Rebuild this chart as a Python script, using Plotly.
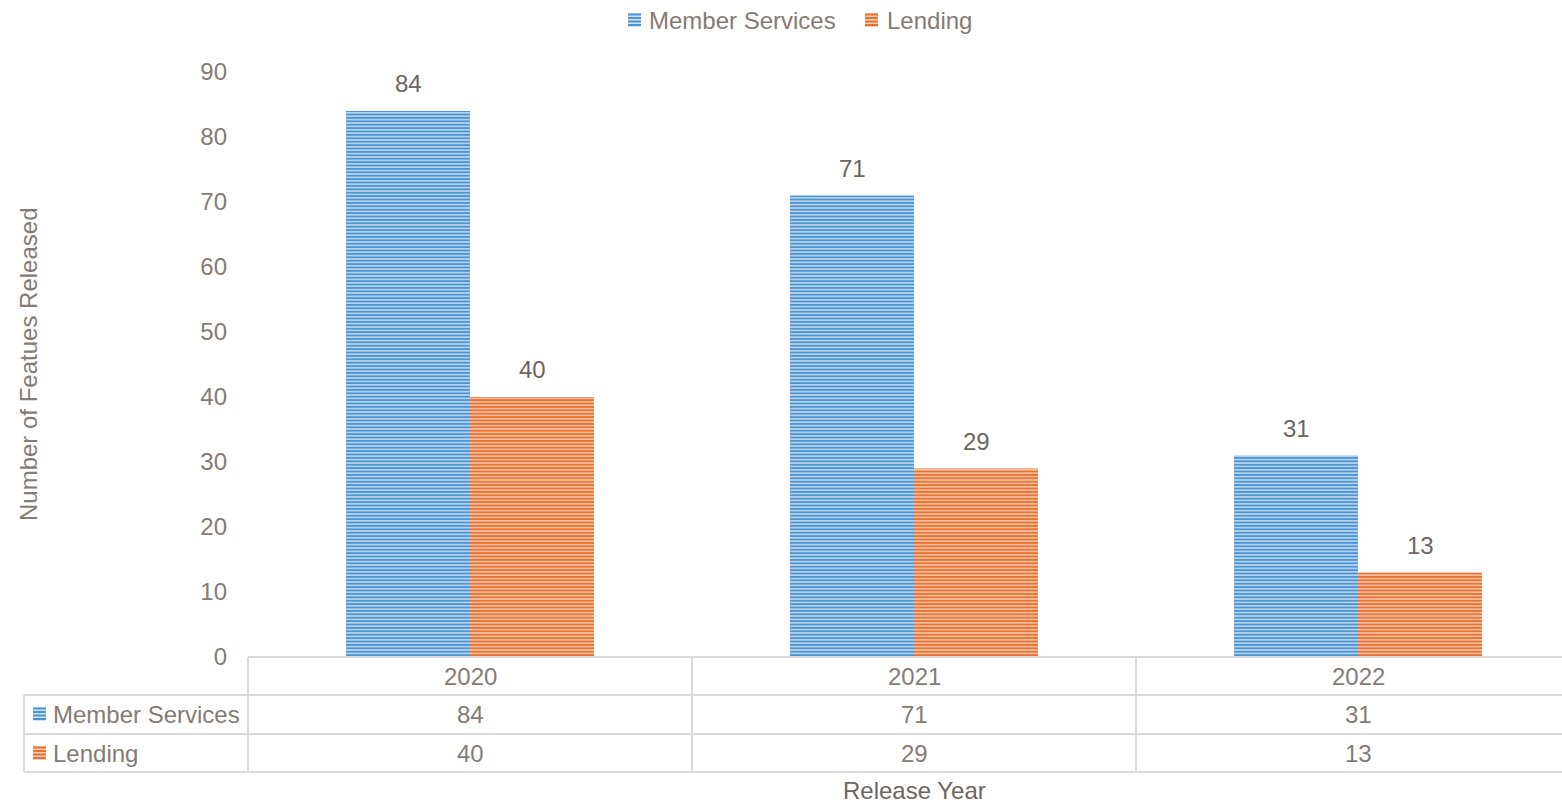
import plotly.graph_objects as go

years = ["2020", "2021", "2022"]
member_services = [84, 71, 31]
lending = [40, 29, 13]
series_names = ["Member Services", "Lending"]
y_ticks = [0, 10, 20, 30, 40, 50, 60, 70, 80, 90]

W, H = 1562, 804
L, T, B = 248, 72, 657
PW, PH = W - L, B - T

def px(x):
    return (x - L) / PW

def py(y):
    return (B - y) / PH

TXT = "#857b74"
DARK = "#6e655f"
GRID = "#dcdad8"
FONT = "Liberation Sans, Arial, sans-serif"
FS = 24
BLUE_FG, BLUE_BG = "#4c93d4", "#cfe2f3"
ORG_FG, ORG_BG = "#ea7130", "#f8d0b8"
COLORS = ((BLUE_FG, BLUE_BG), (ORG_FG, ORG_BG))

fig = go.Figure()
for name, vals, (fg, bg) in zip(series_names, (member_services, lending), COLORS):
    fig.add_trace(go.Bar(
        name=name, x=years, y=vals, showlegend=False, hoverinfo="skip",
        marker=dict(color=bg, line=dict(width=0),
                    pattern=dict(shape="-", fgcolor=fg, bgcolor=bg, size=3.4, solidity=0.6,
                                 fillmode="replace")),
    ))

annotations = []
shapes = []
# data labels above bars
for vals, shift in ((member_services, -62), (lending, 62)):
    for i, v in enumerate(vals):
        annotations.append(dict(x=i, y=v, xref="x", yref="y", xshift=shift, yshift=12,
                                text=str(v), showarrow=False, xanchor="center", yanchor="bottom",
                                font=dict(size=FS, color=DARK, family=FONT)))

def swatch(x0, cy, fg, bg):
    shapes.append(dict(type="rect", xref="paper", yref="paper", x0=px(x0), x1=px(x0 + 13),
                       y0=py(cy - 7), y1=py(cy + 7), fillcolor=bg, line=dict(width=0)))
    for k in range(4):
        yy = cy - 6.5 + k * 3.5
        shapes.append(dict(type="rect", xref="paper", yref="paper", x0=px(x0), x1=px(x0 + 13),
                           y0=py(yy), y1=py(yy + 2), fillcolor=fg, line=dict(width=0)))

# custom legend on top
for (kx, tx), name, (fg, bg) in zip(((628, 647), (865, 885)), series_names, COLORS):
    swatch(kx, 20, fg, bg)
    annotations.append(dict(x=px(tx), y=py(20), xref="paper", yref="paper", text=name,
                            xanchor="left", yanchor="middle", showarrow=False,
                            font=dict(size=FS, color=TXT, family=FONT)))

# table text
row_y = [676, 714, 753]
for i, yr in enumerate(years):
    annotations.append(dict(x=i, y=py(row_y[0]), xref="x", yref="paper", text=yr,
                            xanchor="center", yanchor="middle",
                            showarrow=False, font=dict(size=FS, color=TXT, family=FONT)))
for ri, vals in enumerate((member_services, lending)):
    for i, v in enumerate(vals):
        annotations.append(dict(x=i, y=py(row_y[ri + 1]), xref="x", yref="paper", text=str(v),
                                xanchor="center", yanchor="middle",
                                showarrow=False, font=dict(size=FS, color=TXT, family=FONT)))
    annotations.append(dict(x=px(51), y=py(row_y[ri + 1]), xref="paper", yref="paper",
                            text=series_names[ri], xanchor="left", yanchor="middle", showarrow=False,
                            font=dict(size=FS, color=TXT, family=FONT)))
    swatch(33, row_y[ri + 1], *COLORS[ri])

# table grid
line = dict(color=GRID, width=2)
for yy, x0 in ((657, 248), (695, 24), (734, 24), (772, 24)):
    shapes.append(dict(type="line", xref="paper", yref="paper", x0=px(x0), x1=px(W),
                       y0=py(yy), y1=py(yy), line=line))
for xx, y0 in ((24, 695), (248, 657), (692, 657), (1136, 657)):
    shapes.append(dict(type="line", xref="paper", yref="paper", x0=px(xx), x1=px(xx),
                       y0=py(y0), y1=py(772), line=line))

# axis titles
annotations.append(dict(x=px(28), y=py(364), xref="paper", yref="paper",
                        text="Number of Featues Released", textangle=-90, showarrow=False,
                        xanchor="center", yanchor="middle",
                        font=dict(size=FS, color=TXT, family=FONT)))
annotations.append(dict(x=px(914), y=py(790), xref="paper", yref="paper",
                        text="Release Year", showarrow=False, xanchor="center", yanchor="middle",
                        font=dict(size=FS, color=DARK, family=FONT)))

fig.update_layout(
    width=W, height=H,
    margin=dict(l=L, r=0, t=T, b=H - B, autoexpand=False),
    paper_bgcolor="white", plot_bgcolor="white",
    barmode="group", bargap=0.4414, bargroupgap=0,
    font=dict(family=FONT, size=FS, color=TXT),
    showlegend=False,
    xaxis=dict(type="category", range=[-0.5, -0.5 + PW / 444], showticklabels=False,
               showline=False, showgrid=False, zeroline=False, ticks=""),
    yaxis=dict(range=[0, 90], tickvals=y_ticks, showgrid=False, zeroline=False, showline=False,
               ticks="", ticklabelstandoff=20, tickfont=dict(size=FS, color=TXT, family=FONT)),
    annotations=annotations, shapes=shapes,
)

fig.write_html("out.html", config={"displayModeBar": False},
               post_script="document.body.style.margin='0';document.body.style.overflow='hidden';")
